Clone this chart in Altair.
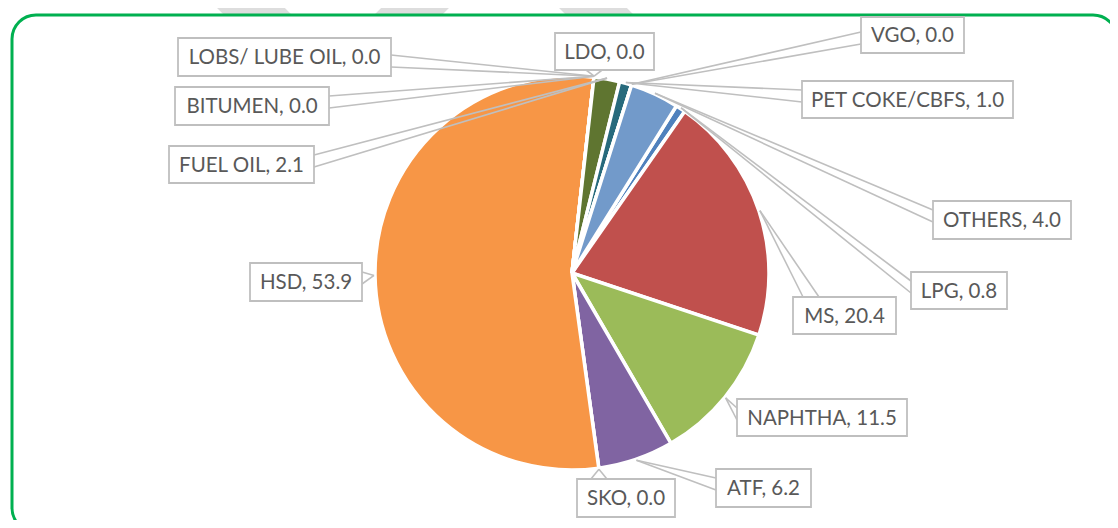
import math
import altair as alt
import pandas as pd

# ---------------- data ----------------
CATEGORIES = ["LPG", "MS", "NAPHTHA", "ATF", "SKO", "HSD", "BITUMEN",
              "LOBS/ LUBE OIL", "LDO", "FUEL OIL", "PET COKE/CBFS", "VGO", "OTHERS"]
VALUES = [0.8, 20.4, 11.5, 6.2, 0.0, 53.9, 0.0, 0.0, 0.0, 2.1, 1.0, 0.0, 4.0]
COLORS = ["#4F81BD", "#C0504D", "#9BBB59", "#8064A2", "#4BACC6", "#F79646", "#2C4D75",
          "#772C2A", "#4D3B62", "#5F7530", "#276A7C", "#B65708", "#729ACA"]

# ---------------- layout (page pixels) ----------------
W, H = 1102, 512
M = 8  # page margin
CX, CY, R = 572, 273, 197
START_DEG = 32.0
TIP_R = 198
# label boxes: x0, y0, x1, y1 (page px), same order as CATEGORIES
LABEL_BOX = [
    (911, 272, 1007, 309),   # LPG
    (793, 297, 896, 334),    # MS
    (737, 399, 907, 436),    # NAPHTHA
    (716, 469, 811, 507),    # ATF
    (577, 479, 675, 517),    # SKO
    (250, 263, 362, 301),    # HSD
    (175, 87, 329, 125),     # BITUMEN
    (178, 38, 391, 76),      # LOBS
    (555, 33, 654, 70),      # LDO
    (169, 146, 314, 183),    # FUEL OIL
    (802, 81, 1013, 118),    # PET COKE
    (861, 17, 964, 53),      # VGO
    (933, 201, 1071, 239),   # OTHERS
]
TEXT_COLOR = "#595959"
BOX_STROKE = "#BFBFBF"
FONT = "Lato"

total = sum(VALUES)
pie_df = pd.DataFrame({"cat": CATEGORIES, "val": VALUES,
                       "ord": list(range(len(CATEGORIES)))})

# leader tips derived from data
tips = []
acc = 0.0
for v in VALUES:
    a0 = START_DEG + acc / total * 360
    acc += v
    a1 = START_DEG + acc / total * 360
    am = math.radians((a0 + a1) / 2)
    tips.append((CX + TIP_R * math.sin(am), CY - TIP_R * math.cos(am)))

lines, boxes, texts = [], [], []
for (name, v, (x0, y0, x1, y1), (ax, ay)) in zip(CATEGORIES, VALUES, LABEL_BOX, tips):
    bx, by = (x0 + x1) / 2, (y0 + y1) / 2
    dx = 0 if x0 <= ax <= x1 else (ax - x1 if ax > x1 else ax - x0)
    dy = 0 if y0 <= ay <= y1 else (ay - y1 if ay > y1 else ay - y0)
    if abs(dx) >= abs(dy):
        ex = x1 if dx > 0 else x0
        c = min(max(ay, y0 + 15), y1 - 15) if (y1 - y0) > 30 else by
        c = min(max(c, y0 + 7), y1 - 7)
        p1, p2 = (ex, c - 6), (ex, c + 6)
    else:
        ey = y1 if dy > 0 else y0
        c = min(max(ax, x0 + 18), x1 - 18)
        p1, p2 = (c - 8, ey), (c + 8, ey)
    for p in (p1, p2):
        lines.append({"x": p[0] - M, "y": p[1] - M, "x2": ax - M, "y2": ay - M})
    boxes.append({"x": x0 - M, "y": y0 - M, "x2": x1 - M, "y2": y1 - M})
    texts.append({"x": bx - M, "y": by - M + 1, "t": f"{name}, {v:.1f}"})

lines_df = pd.DataFrame(lines)
boxes_df = pd.DataFrame(boxes)
texts_df = pd.DataFrame(texts)

# watermark strokes behind the card (page px)
WM = pd.DataFrame([
    {"x": 150 - M, "y": -93 - M, "x2": 330 - M, "y2": 87 - M},
    {"x": 480 - M, "y": -57 - M, "x2": 370 - M, "y2": 53 - M},
    {"x": 540 - M, "y": -45 - M, "x2": 640 - M, "y2": 55 - M},
])

px = lambda f: alt.X(f, type="quantitative", scale=None, axis=None)
py = lambda f: alt.Y(f, type="quantitative", scale=None, axis=None)

wm = alt.Chart(WM).mark_rule(color="#DDDDDD", strokeWidth=48, strokeCap="round").encode(
    x=px("x"), y=py("y"), x2="x2:Q", y2="y2:Q")

card = alt.Chart(pd.DataFrame({"a": [0]})).mark_rect(
    fill="white", stroke="#00B050", strokeWidth=3, cornerRadius=24).encode(
    x=alt.value(12 - M), x2=alt.value(1117 - M), y=alt.value(15 - M), y2=alt.value(532 - M))

pie = alt.Chart(pie_df).mark_arc(outerRadius=R, stroke="white", strokeWidth=3.5).encode(
    theta=alt.Theta("val:Q", stack=True,
                    scale=alt.Scale(domain=[0, total],
                                    range=[math.radians(START_DEG),
                                           math.radians(START_DEG) + 2 * math.pi])),
    color=alt.Color("cat:N", scale=alt.Scale(domain=CATEGORIES, range=COLORS), legend=None),
    order=alt.Order("ord:Q"),
    x=alt.value(CX - M), y=alt.value(CY - M),
)

leaders = alt.Chart(lines_df).mark_rule(color=BOX_STROKE, strokeWidth=1.6).encode(
    x=px("x"), y=py("y"), x2="x2:Q", y2="y2:Q")

label_boxes = alt.Chart(boxes_df).mark_rect(fill="white", stroke=BOX_STROKE, strokeWidth=1.8).encode(
    x=px("x"), y=py("y"), x2="x2:Q", y2="y2:Q")

label_text = alt.Chart(texts_df).mark_text(
    font=FONT, fontSize=20.5, color=TEXT_COLOR, align="center", baseline="middle").encode(
    x=px("x"), y=py("y"), text="t:N")

chart = alt.layer(wm, card, pie, leaders, label_boxes, label_text).properties(
    width=W, height=H, padding=0, autosize=alt.AutoSizeParams(type="none")
).configure_view(stroke=None)

chart.save("out.html", embed_options={"renderer": "svg", "actions": False})
